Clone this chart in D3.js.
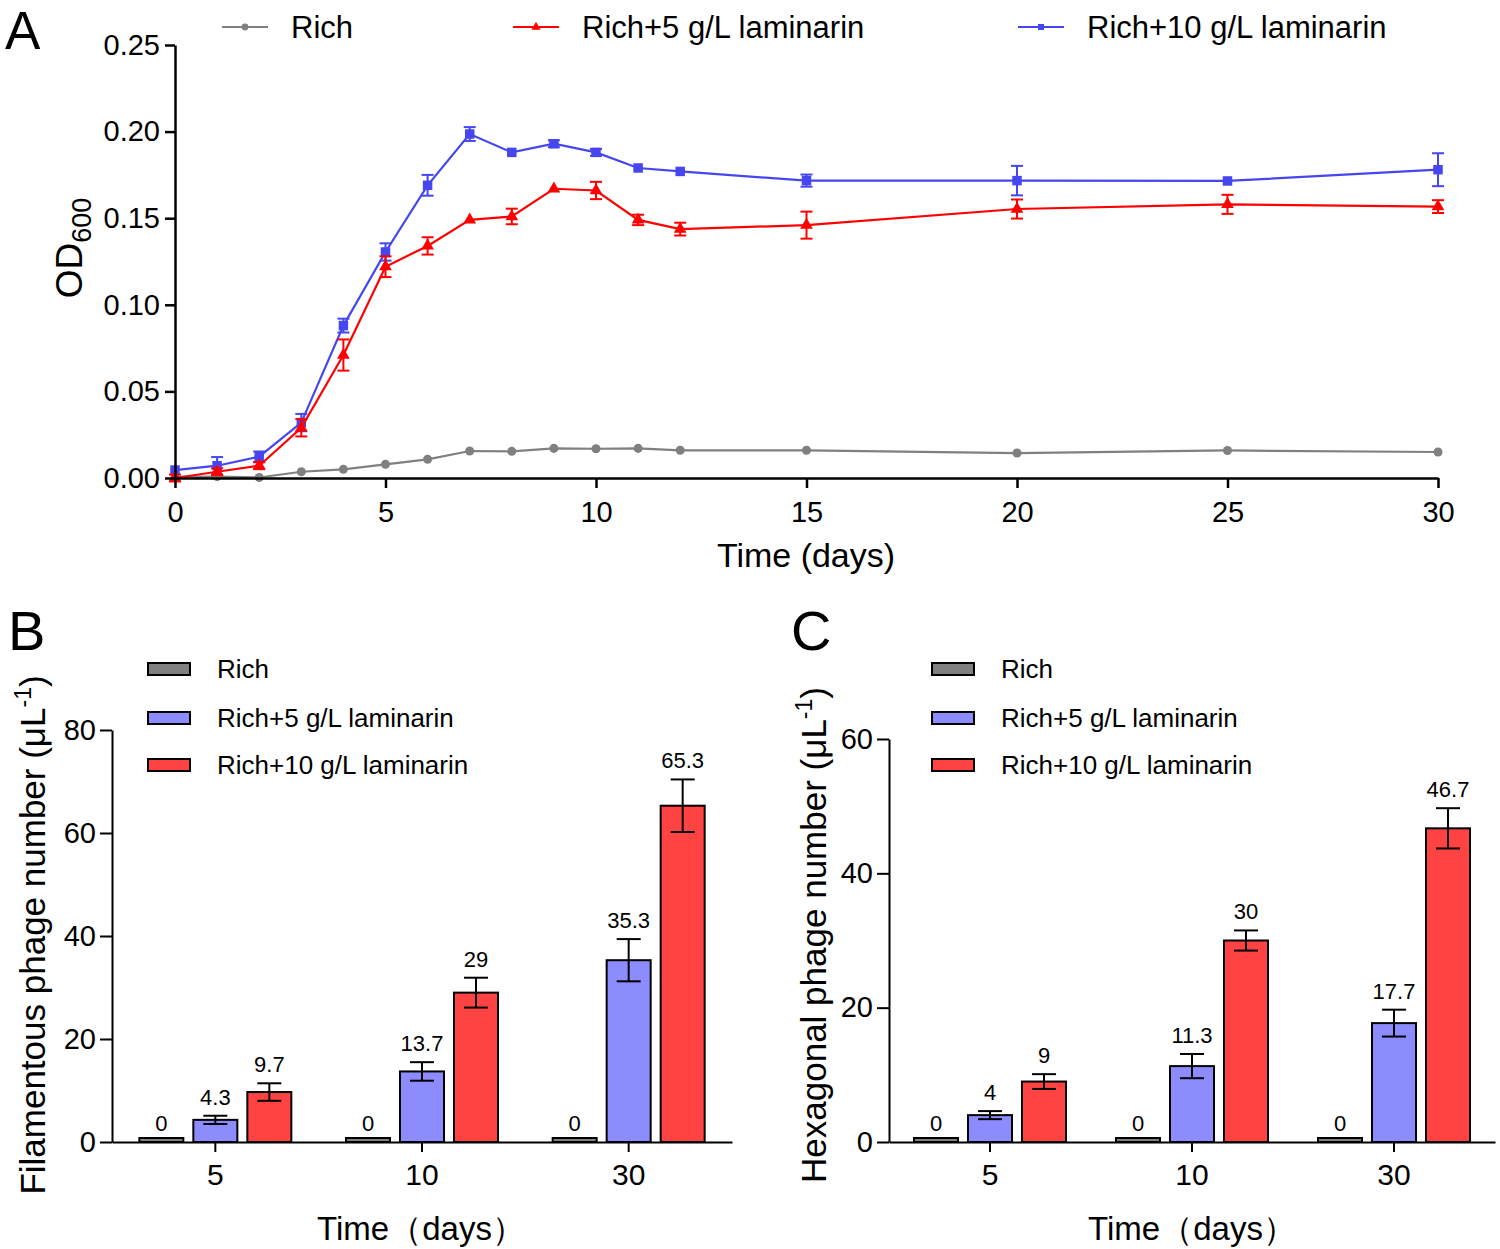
<!DOCTYPE html>
<html>
<head>
<meta charset="utf-8">
<script src="https://cdn.jsdelivr.net/npm/d3@7"></script>
<style>
	body { margin: 0; background: #fff; }
	svg { font-family: "Liberation Sans", Arial, sans-serif; }
	.axis path, .axis line { stroke: #000; }
	.axis text { fill: #000; }
</style>
</head>
<body>
<script>
// ---- panel A: OD600 over time ----
var days = [0, 1, 2, 3, 4, 5, 6, 7, 8, 9, 10, 11, 12, 15, 20, 25, 30];
var richOD = [0.0007, 0.0008, 0.0003, 0.0036, 0.005, 0.0079, 0.0108, 0.0156, 0.0154, 0.0171, 0.0169, 0.0171, 0.016, 0.016, 0.0144, 0.0159, 0.015];
var richErr = [0, 0, 0, 0, 0, 0, 0, 0, 0, 0, 0, 0, 0, 0, 0, 0, 0];
var rich5OD = [0.000, 0.0036, 0.0071, 0.029, 0.071, 0.122, 0.134, 0.149, 0.151, 0.167, 0.166, 0.149, 0.1437, 0.146, 0.1553, 0.158, 0.1567];
var rich5Err = [0.002, 0.002, 0.002, 0.005, 0.009, 0.006, 0.005, 0.001, 0.0045, 0.001, 0.005, 0.003, 0.0037, 0.0078, 0.0055, 0.0055, 0.0037];
var rich10OD = [0.0046, 0.0071, 0.0123, 0.032, 0.088, 0.1305, 0.169, 0.1986, 0.188, 0.193, 0.188, 0.179, 0.177, 0.1717, 0.1717, 0.1715, 0.178];
var rich10Err = [0.001, 0.005, 0.003, 0.005, 0.004, 0.005, 0.006, 0.004, 0.001, 0.002, 0.002, 0.001, 0.001, 0.0035, 0.0085, 0.001, 0.0095];
var odTicks = [0, 0.05, 0.10, 0.15, 0.20, 0.25];
var dayTicks = [0, 5, 10, 15, 20, 25, 30];

// ---- panels B and C: phage counts ----
var timeGroups = ['5', '10', '30'];
var barSeries = ['Rich', 'Rich+5 g/L laminarin', 'Rich+10 g/L laminarin'];
var filamentousRich = [0, 0, 0];
var filamentousRich5 = [4.3, 13.7, 35.3];
var filamentousRich5Err = [0.8, 1.8, 4.1];
var filamentousRich10 = [9.7, 29, 65.3];
var filamentousRich10Err = [1.7, 2.9, 5.1];
var hexagonalRich = [0, 0, 0];
var hexagonalRich5 = [4, 11.3, 17.7];
var hexagonalRich5Err = [0.6, 1.8, 2.0];
var hexagonalRich10 = [9, 30, 46.7];
var hexagonalRich10Err = [1.1, 1.5, 3.0];
var filamentousTicks = [0, 20, 40, 60, 80];
var hexagonalTicks = [0, 20, 40, 60];

var lineColors = ['#808080', '#ff0000', '#4646f0'];
var barColors = ['#808080', '#8c8cff', '#ff4242'];

var svg = d3.select('body')
	.append('svg')
		.attr('width', 1500)
		.attr('height', 1249);

function panelLetter(txt, x, y, size) {
	svg.append('text')
		.attr('x', x)
		.attr('y', y)
		.style('font-size', size + 'px')
		.text(txt);
}

function drawLinePanel() {
	var x = d3.scaleLinear().domain([0, 30]).range([175, 1438]);
	var y = d3.scaleLinear().domain([0, 0.25]).range([478, 45]);

	var xAxis = d3.axisBottom(x)
		.tickValues(dayTicks)
		.tickSize(10)
		.tickSizeOuter(0)
		.tickPadding(13);
	var yAxis = d3.axisLeft(y)
		.tickValues(odTicks)
		.tickFormat(d3.format('.2f'))
		.tickSize(10)
		.tickSizeOuter(0)
		.tickPadding(5);

	var series = [
		{ name: 'Rich', vals: richOD, err: richErr, shape: d3.symbolCircle, size: 64 },
		{ name: 'Rich+5 g/L laminarin', vals: rich5OD, err: rich5Err, shape: d3.symbolTriangle, size: 70 },
		{ name: 'Rich+10 g/L laminarin', vals: rich10OD, err: rich10Err, shape: d3.symbolSquare, size: 90 }
	];
	var order = [0, 2, 1];

	var line = d3.line()
		.x(function(d, i) { return x(days[i]); })
		.y(function(d) { return y(d); });

	order.forEach(function(k) {
		var s = series[k];
		var g = svg.append('g').attr('class', 'series');
		g.append('path')
			.datum(s.vals)
			.attr('d', line)
			.attr('fill', 'none')
			.attr('stroke', lineColors[k])
			.attr('stroke-width', 2.2);
		var eb = g.selectAll('.eb')
			.data(s.vals.map(function(v, i) { return { d: days[i], v: v, e: s.err[i] }; }).filter(function(p) { return p.e > 0.0015; }))
			.enter().append('g')
			.attr('stroke', lineColors[k])
			.attr('stroke-width', 2);
		eb.append('line')
			.attr('x1', function(p) { return x(p.d); })
			.attr('x2', function(p) { return x(p.d); })
			.attr('y1', function(p) { return y(p.v - p.e); })
			.attr('y2', function(p) { return y(p.v + p.e); });
		[-1, 1].forEach(function(sgn) {
			eb.append('line')
				.attr('x1', function(p) { return x(p.d) - 6; })
				.attr('x2', function(p) { return x(p.d) + 6; })
				.attr('y1', function(p) { return y(p.v + sgn * p.e); })
				.attr('y2', function(p) { return y(p.v + sgn * p.e); });
		});
		g.selectAll('.pt')
			.data(s.vals)
			.enter().append('path')
			.attr('transform', function(d, i) { return 'translate(' + x(days[i]) + ',' + y(d) + ')'; })
			.attr('d', d3.symbol().type(s.shape).size(s.size))
			.attr('fill', lineColors[k]);
	});

	svg.append('g')
		.attr('class', 'x axis')
		.attr('transform', 'translate(0,478)')
		.call(xAxis)
		.call(function(g) {
			g.selectAll('path, line').attr('stroke-width', 2.5);
			g.selectAll('text').style('font-size', '29px');
		});
	svg.append('g')
		.attr('class', 'y axis')
		.attr('transform', 'translate(175,0)')
		.call(yAxis)
		.call(function(g) {
			g.selectAll('path, line').attr('stroke-width', 2.5);
			g.selectAll('text').style('font-size', '29px');
		});

	svg.append('text')
		.attr('x', 806)
		.attr('y', 567)
		.attr('text-anchor', 'middle')
		.style('font-size', '34px')
		.text('Time (days)');

	var od = svg.append('text')
		.attr('transform', 'translate(82,248) rotate(-90)')
		.attr('text-anchor', 'middle')
		.style('font-size', '37px');
	od.append('tspan').text('OD');
	od.append('tspan')
		.attr('dy', 9)
		.style('font-size', '27px')
		.text('600');

	// legend along the top
	var legX = [222, 513, 1018];
	series.forEach(function(s, k) {
		var lg = svg.append('g').attr('transform', 'translate(' + legX[k] + ',27)');
		lg.append('line')
			.attr('x1', 0).attr('x2', 46)
			.attr('stroke', lineColors[k])
			.attr('stroke-width', 2.2);
		lg.append('path')
			.attr('transform', 'translate(23,0)')
			.attr('d', d3.symbol().type(s.shape).size(36))
			.attr('fill', lineColors[k]);
		lg.append('text')
			.attr('x', 69)
			.attr('y', 11)
			.style('font-size', '31px')
			.text(s.name);
	});
}

function drawBarPanel(opts) {
	var x0 = d3.scaleBand().domain(timeGroups).range(opts.xRange);
	var x1 = d3.scaleBand().domain(barSeries).range([-81, 81]).paddingInner(0.185).paddingOuter(0.0925);
	var y = d3.scaleLinear().domain(opts.yDomain).range([1142, opts.yTop]);

	var rows = [];
	timeGroups.forEach(function(t, i) {
		opts.values.forEach(function(vals, k) {
			rows.push({ t: t, s: barSeries[k], k: k, v: vals[i], e: opts.errors[k][i] });
		});
	});

	var bars = svg.append('g').attr('class', 'bars');
	bars.selectAll('rect')
		.data(rows)
		.enter().append('rect')
		.attr('x', function(d) { return x0(d.t) + x0.bandwidth() / 2 + x1(d.s); })
		.attr('width', x1.bandwidth())
		.attr('y', function(d) { return Math.min(y(d.v), y(0) - 4); })
		.attr('height', function(d) { return Math.max(y(0) - y(d.v), 4); })
		.attr('fill', function(d) { return barColors[d.k]; })
		.attr('stroke', '#000')
		.attr('stroke-width', 2);

	var withErr = rows.filter(function(d) { return d.e > 0; });
	var eb = bars.selectAll('.eb')
		.data(withErr)
		.enter().append('g')
		.attr('stroke', '#000')
		.attr('stroke-width', 2);
	function cx(d) { return x0(d.t) + x0.bandwidth() / 2 + x1(d.s) + x1.bandwidth() / 2; }
	eb.append('line')
		.attr('x1', cx).attr('x2', cx)
		.attr('y1', function(d) { return y(d.v - d.e); })
		.attr('y2', function(d) { return y(d.v + d.e); });
	[-1, 1].forEach(function(sgn) {
		eb.append('line')
			.attr('x1', function(d) { return cx(d) - 12; })
			.attr('x2', function(d) { return cx(d) + 12; })
			.attr('y1', function(d) { return y(d.v + sgn * d.e); })
			.attr('y2', function(d) { return y(d.v + sgn * d.e); });
	});

	bars.selectAll('.val')
		.data(rows)
		.enter().append('text')
		.attr('x', cx)
		.attr('y', function(d) { return y(d.v + d.e) - 11; })
		.attr('text-anchor', 'middle')
		.style('font-size', '22px')
		.text(function(d) { return String(d.v); });

	var xAxis = d3.axisBottom(x0)
		.tickSize(10)
		.tickSizeOuter(0)
		.tickPadding(12);
	var yAxis = d3.axisLeft(y)
		.tickValues(opts.ticks)
		.tickSize(12)
		.tickSizeOuter(0)
		.tickPadding(4);

	svg.append('g')
		.attr('class', 'x axis')
		.attr('transform', 'translate(0,1142)')
		.call(xAxis)
		.call(function(g) {
			g.selectAll('path, line').attr('stroke-width', 2);
			g.selectAll('text').style('font-size', '30px');
		});
	svg.append('g')
		.attr('class', 'y axis')
		.attr('transform', 'translate(' + opts.xRange[0] + ',0)')
		.call(yAxis)
		.call(function(g) {
			g.selectAll('path, line').attr('stroke-width', 2);
			g.selectAll('text').style('font-size', '29px');
		});

	svg.append('text')
		.attr('x', opts.titleX)
		.attr('y', 1240)
		.attr('text-anchor', 'middle')
		.style('font-size', '33px')
		.text('Time（days）');

	var yt = svg.append('text')
		.attr('transform', 'translate(' + opts.yTitleX + ',935) rotate(-90)')
		.attr('text-anchor', 'middle')
		.style('font-size', '35px');
	yt.append('tspan').text(opts.yTitle + ' (μL');
	yt.append('tspan')
		.attr('dy', -14)
		.style('font-size', '23px')
		.text('-1');
	yt.append('tspan')
		.attr('dy', 14)
		.text(')');

	var legY = [669, 718, 765];
	barSeries.forEach(function(name, k) {
		svg.append('rect')
			.attr('x', opts.legX)
			.attr('y', legY[k] - 6)
			.attr('width', 42)
			.attr('height', 12)
			.attr('fill', barColors[k])
			.attr('stroke', '#000')
			.attr('stroke-width', 2);
		svg.append('text')
			.attr('x', opts.legX + 69)
			.attr('y', legY[k] + 9)
			.style('font-size', '26px')
			.text(name);
	});
}

panelLetter('A', 5, 49, 53);
drawLinePanel();

panelLetter('B', 8, 650, 56);
drawBarPanel({
	xRange: [112, 732],
	yDomain: [0, 80],
	yTop: 730,
	ticks: filamentousTicks,
	values: [filamentousRich, filamentousRich5, filamentousRich10],
	errors: [[0, 0, 0], filamentousRich5Err, filamentousRich10Err],
	titleX: 421,
	yTitle: 'Filamentous phage number',
	yTitleX: 45,
	legX: 148
});

panelLetter('C', 791, 650, 56);
drawBarPanel({
	xRange: [889, 1495],
	yDomain: [0, 60],
	yTop: 739,
	ticks: hexagonalTicks,
	values: [hexagonalRich, hexagonalRich5, hexagonalRich10],
	errors: [[0, 0, 0], hexagonalRich5Err, hexagonalRich10Err],
	titleX: 1192,
	yTitle: 'Hexagonal phage number',
	yTitleX: 826,
	legX: 932
});
</script>
</body>
</html>
